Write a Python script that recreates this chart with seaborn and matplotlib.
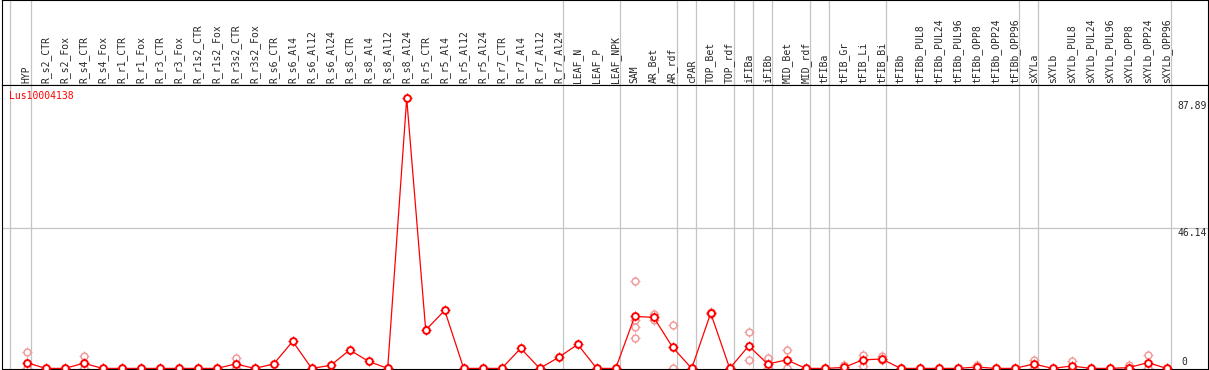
import matplotlib
matplotlib.use("Agg")
import matplotlib.pyplot as plt
import seaborn as sns
import pandas as pd
import numpy as np

# sample names (one column each)
samples = [
    "HYP",
    "R_s2_CTR", "R_s2_Fox", "R_s4_CTR", "R_s4_Fox", "R_r1_CTR", "R_r1_Fox",
    "R_r3_CTR", "R_r3_Fox", "R_r1s2_CTR", "R_r1s2_Fox", "R_r3s2_CTR", "R_r3s2_Fox",
    "R_s6_CTR", "R_s6_Al4", "R_s6_Al12", "R_s6_Al24",
    "R_s8_CTR", "R_s8_Al4", "R_s8_Al12", "R_s8_Al24",
    "R_r5_CTR", "R_r5_Al4", "R_r5_Al12", "R_r5_Al24",
    "R_r7_CTR", "R_r7_Al4", "R_r7_Al12", "R_r7_Al24",
    "LEAF_N", "LEAF_P", "LEAF_NPK",
    "SAM", "AR_Bet", "AR_rdf", "cPAR", "TOP_Bet", "TOP_rdf",
    "iFIBa", "iFIBb", "MID_Bet", "MID_rdf", "tFIBa",
    "tFIB_Gr", "tFIB_Li", "tFIB_Bi", "tFIBb",
    "tFIBb_PUL8", "tFIBb_PUL24", "tFIBb_PUL96", "tFIBb_OPP8", "tFIBb_OPP24", "tFIBb_OPP96",
    "sXYLa", "sXYLb",
    "sXYLb_PUL8", "sXYLb_PUL24", "sXYLb_PUL96", "sXYLb_OPP8", "sXYLb_OPP24", "sXYLb_OPP96",
]

# mean expression per sample
mean_expr = [
    1.9, 0, 0, 1.7, 0, 0, 0, 0, 0, 0, 0, 1.45, 0,
    1.45, 8.9, 0, 1.0,
    6.05, 2.3, 0, 88.9,
    12.6, 19.1, 0, 0,
    0, 6.6, 0, 3.65,
    7.9, 0, 0,
    17.1, 16.8, 6.9, 0, 18.2, 0,
    7.4, 1.45, 2.8, 0, 0,
    0.3, 2.8, 3.1, 0,
    0, 0, 0, 0.45, 0, 0,
    1.45, 0,
    0.8, 0, 0, 0.25, 1.9, 0,
]

# individual replicates (sample index, value)
rep_idx = [0, 0, 3, 3, 11, 11,
           32, 32, 32, 32, 33, 33, 34, 34, 36, 36,
           38, 38, 39, 39, 40, 40, 43, 43, 44, 44, 45, 45,
           50, 50, 53, 53, 55, 55, 58, 58, 59, 59]
rep_val = [5.4, 0, 4.0, 0, 3.4, 0,
           28.7, 13.7, 9.9, 15.9, 17.9, 15.9, 14.2, 0, 18.6, 17.8,
           11.9, 2.8, 3.3, 0, 6.05, 0, 1.0, 0, 4.3, 0.8, 4.1, 2.8,
           1.2, 0, 2.8, 0, 2.3, 0, 1.0, 0, 4.4, 0]

# columns after which a grey separator is drawn
group_ends = [-1, 0, 28, 31, 34, 35, 37, 38, 39, 41, 42, 45, 52, 53, 60]

gene = "Lus10004138"
ytick_vals = [87.89, 46.14, 0]

RED = "#ff0000"
PINK = "#f29b9b"
GRID = "#c4c4c4"
MONO = "DejaVu Sans Mono"

sns.set_style("white")
plt.rcParams["font.family"] = [MONO, "DejaVu Sans"]

means = pd.DataFrame({"pos": np.arange(len(samples)), "expr": mean_expr})
reps = pd.DataFrame({"pos": rep_idx, "expr": rep_val})

W, H = 1209, 370
fig = plt.figure(figsize=(W / 100, H / 100), dpi=100)
left, right = 1.5 / W, 1207.5 / W
ax_h = fig.add_axes([left, (H - 85) / H, right - left, 85 / H])
ax = fig.add_axes([left, 1 / H, right - left, 284 / H])

xlim = ((1.5 - 26.7) / 19, (1207.5 - 26.7) / 19)
for a in (ax_h, ax):
    a.set_xlim(*xlim)
    a.set_xticks([])
    a.set_yticks([])
    for s in a.spines.values():
        s.set_color("black")
        s.set_linewidth(0.8)
    for g in group_ends:
        off = 0.14 if g < 0 else 0.2
        a.axvline(g + off, color=GRID, lw=0.9, zorder=0)

# header with sample names
ax_h.set_ylim(0, 1)
for i, name in enumerate(samples):
    ax_h.text(i, 0.025, name, rotation=90, ha="center", va="bottom",
              fontsize=7, family=MONO)

# data panel
ax.set_ylim((368.4 - 369) / 3.038, (368.4 - 85) / 3.038)
ax.axhline(ytick_vals[1], color=GRID, lw=0.9, zorder=0)

sns.scatterplot(data=reps, x="pos", y="expr", ax=ax, marker="+", s=45,
                color=PINK, linewidth=0.8, zorder=1, legend=False)
sns.scatterplot(data=reps, x="pos", y="expr", ax=ax, marker="o", s=24,
                color="white", edgecolor=PINK, linewidth=1.1, zorder=1.2, legend=False)
sns.lineplot(data=means, x="pos", y="expr", ax=ax, color=RED, lw=0.9, zorder=2)
sns.scatterplot(data=means, x="pos", y="expr", ax=ax, marker="+", s=45,
                color=RED, linewidth=0.8, zorder=3, legend=False)
sns.scatterplot(data=means, x="pos", y="expr", ax=ax, marker="o", s=24,
                color="white", edgecolor=RED, linewidth=1.4, zorder=3.2, legend=False)
ax.set_xlabel("")
ax.set_ylabel("")

ax.text(0.006, 0.96, gene, transform=ax.transAxes, color=RED, fontsize=7,
        ha="left", va="center", family=MONO)

xt = (1177 - 26.7) / 19
ax.text(xt, ytick_vals[0], f"{ytick_vals[0]:.2f}", ha="left", va="top", fontsize=7)
ax.text(xt, ytick_vals[1], f"{ytick_vals[1]:.2f}", ha="left", va="top", fontsize=7)
ax.text((1181 - 26.7) / 19, ytick_vals[2] + 0.6, "0", ha="left", va="bottom", fontsize=7)

fig.savefig("out.png", dpi=100)
